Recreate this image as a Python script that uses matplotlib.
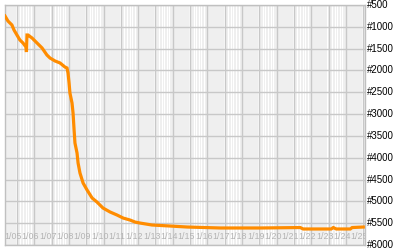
import matplotlib
matplotlib.use("Agg")
import matplotlib.pyplot as plt
import matplotlib.transforms as mtransforms

# ---- data (day of month, rank) ----
days = [5.31, 5.48, 5.71, 5.83, 6.00, 6.17, 6.35, 6.52, 6.55, 6.58, 6.64, 6.87,
        7.16, 7.45, 7.73, 7.91, 8.20, 8.49, 8.77, 8.89, 8.95, 9.01, 9.06, 9.18,
        9.24, 9.30, 9.35, 9.47, 9.53, 9.64, 9.82, 10.05, 10.34, 10.62, 10.97,
        11.38, 11.78, 12.13, 12.53, 12.82, 13.11, 13.80, 14.84, 15.83, 17.73,
        20.05, 22.36, 22.53, 24.15, 24.27, 24.44, 25.25, 25.36, 26.00]
ranks = [752, 867, 958, 1073, 1188, 1302, 1371, 1463, 1577, 1188, 1188, 1256,
         1371, 1485, 1646, 1715, 1783, 1829, 1921, 1944, 2058, 2288, 2517, 2746,
         2975, 3365, 3663, 3892, 4121, 4351, 4580, 4740, 4923, 5015, 5153,
         5244, 5313, 5382, 5428, 5474, 5497, 5542, 5565, 5588, 5610,
         5610, 5600, 5633, 5633, 5600, 5633, 5633, 5600, 5588]

y_ticks = [500, 1000, 1500, 2000, 2500, 3000, 3500, 4000, 4500, 5000, 5500, 6000]
y_labels = ["#%d" % v for v in y_ticks]
x_days = list(range(5, 26))
x_labels = ["1/%02d" % d for d in x_days]

fig = plt.figure(figsize=(4, 2.5), dpi=100)
ax = fig.add_axes([5 / 400, 5 / 250, 360 / 400, 240 / 250])
ax.set_facecolor("#EFEFEF")

xmin, xmax = 5.31, 26.1
ax.set_xlim(xmin, xmax)
ax.set_ylim(6000, 500)

# white stripes
for d in x_days:
    offs = [0.2, 0.35, 0.5, 0.65, 0.8] if d % 2 == 0 else [0.93]
    for o in offs:
        ax.axvline(d + o, color="white", lw=0.8, zorder=0.5)

# grid
for d in x_days + [26]:
    ax.axvline(d, color="#C8C8C8", lw=1.0, zorder=1)
for v in y_ticks:
    ax.axhline(v, color="#C8C8C8", lw=1.0, zorder=1)

ax.plot(days, ranks, color="#FF8C00", lw=2.3, zorder=3, solid_joinstyle="miter")

ax.set_xticks([])
ax.set_yticks([])
for s in ax.spines.values():
    s.set_color("#C0C0C0")
    s.set_linewidth(1.0)

trans = mtransforms.blended_transform_factory(ax.transData, ax.transAxes)
for d, lab in zip(x_days, x_labels):
    ax.text(d + 0.78, 0.037, lab, transform=trans, ha="center", va="center",
            fontsize=6.4, color="#B4B4B4", family="Liberation Sans", zorder=2,
            clip_on=True)

transy = mtransforms.blended_transform_factory(ax.transAxes, ax.transData)
for v, lab in zip(y_ticks, y_labels):
    ax.text(1.005, v, lab, transform=transy, ha="left", va="center",
            fontsize=7, color="black", family="Liberation Sans", clip_on=False)

fig.savefig("out.png", dpi=100)
